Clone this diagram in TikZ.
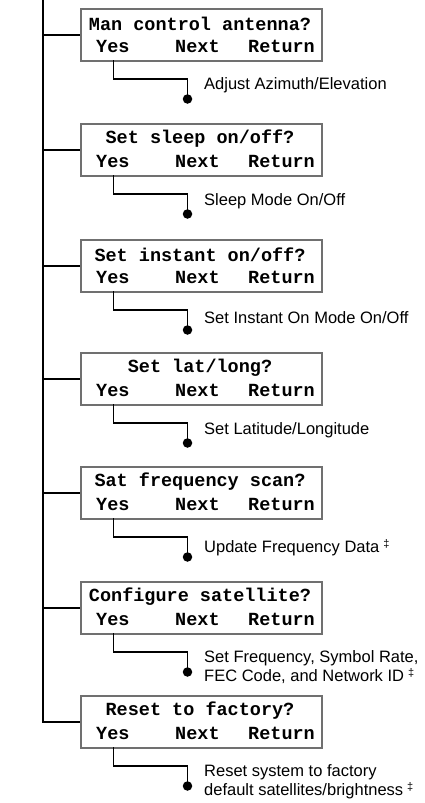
\documentclass[tikz,border=0pt]{standalone}
\usepackage{fontspec}
\setmainfont{Liberation Sans}
\newfontfamily\lcdfont{Liberation Mono}
\definecolor{boxgray}{HTML}{707070}
\tikzset{
  lcd/.style={draw=boxgray, line width=2pt, minimum width=241pt, minimum height=52pt, inner sep=0pt, anchor=north west},
  lcdtxt/.style={font=\lcdfont\bfseries\fontsize{18.5}{20}\selectfont, inner sep=0pt},
  trunk/.style={line width=2pt, black},
  conn/.style={line width=1.3pt, black},
  dotmark/.style={circle, fill=black, inner sep=0pt, minimum size=9.5pt},
  lbl/.style={font=\fontsize{16.5}{19}\selectfont, anchor=west, align=left, inner sep=0pt},
}
\newcommand{\dg}{\hspace{4pt}\raisebox{0.6ex}{\fontsize{11}{11}\selectfont ‡}}
\begin{document}
\begin{tikzpicture}[x=1pt,y=-1pt]
\useasboundingbox (0,0) rectangle (425,803);
\coordinate (trunktop) at (42.5,0);
\foreach \i/\t/\title in {1/8/{Man control antenna?}, 2/123/{Set sleep on/off?}, 3/239/{Set instant on/off?}, 4/352/{Set lat/long?}, 5/466/{Sat frequency scan?}, 6/581/{Configure satellite?}, 7/695/{Reset to factory?}}{
  \node[lcd] (b\i) at (79.5,\t) {};
  \node[lcdtxt] (t\i) at (200,\t+16) {\title};
  \node[lcdtxt, anchor=west] (yes\i) at (96,\t+38) {Yes};
  \node[lcdtxt, anchor=west] (next\i) at (175,\t+38) {Next};
  \node[lcdtxt, anchor=west] (ret\i) at (248,\t+38) {Return};
  \coordinate (ys\i) at (113.5,\t+52);
  \coordinate (k\i) at (187.5,\t+71);
  \node[dotmark] (d\i) at (187.5,\t+91) {};
  \draw[conn] (ys\i) |- (k\i) -- (d\i.center);
}
\draw[trunk] (trunktop) |- (b7.west);
\foreach \i in {1,...,6}{
  \draw[trunk] (trunktop |- b\i.west) -- (b\i.west);
}
\node[lbl] (l1) at (204,85) {Adjust Azimuth/Elevation};
\node[lbl] (l2) at (204,201) {Sleep Mode On/Off};
\node[lbl] (l3) at (204,318) {Set Instant On Mode On/Off};
\node[lbl] (l4) at (204,430) {Set Latitude/Longitude};
\node[lbl] (l5) at (204,548) {Update Frequency Data\dg};
\node[lbl] (l6) at (204,667.5) {Set Frequency, Symbol Rate,\\FEC Code, and Network ID\dg};
\node[lbl] (l7) at (204,781.5) {Reset system to factory\\default satellites/brightness\dg};
\end{tikzpicture}
\end{document}
